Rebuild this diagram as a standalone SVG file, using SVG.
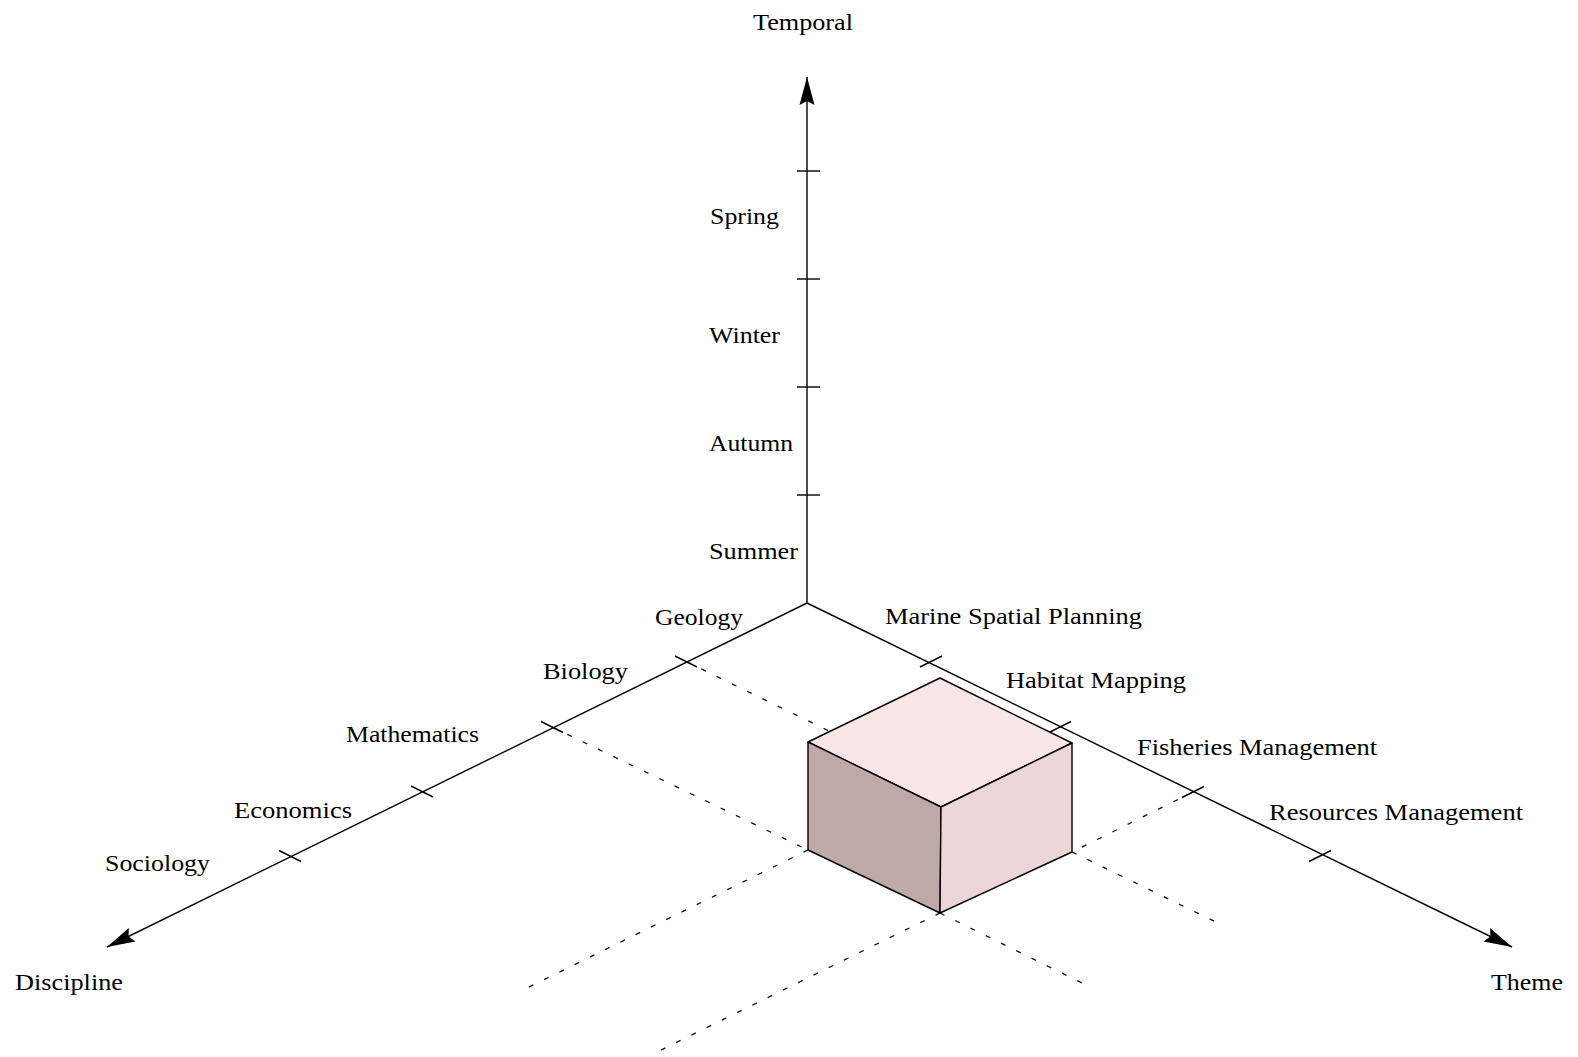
<svg xmlns="http://www.w3.org/2000/svg" width="1578" height="1057" viewBox="0 0 1578 1057">
<style>
  .axis { stroke: #000; stroke-width: 1.4; fill: none; }
  .tick { stroke: #000; stroke-width: 1.4; fill: none; }
  .dash { stroke: #111; stroke-width: 1.3; fill: none; stroke-dasharray: 5 12; }
  .edge { stroke: #000; stroke-width: 1.4; stroke-linejoin: round; }
  text { font-family: "Liberation Serif", "Times New Roman", serif; font-size: 24px; fill: #000; }
</style>
<defs>
  <marker id="arrow" markerUnits="userSpaceOnUse" markerWidth="40" markerHeight="24" refX="30" refY="10" orient="auto" viewBox="0 0 40 20">
    <path d="M30,10 L2,2.5 L6,10 L2,17.5 Z" fill="#000"/>
  </marker>
</defs>
<rect width="1578" height="1057" fill="#fff"/>

<g id="connectors">
  <g id="dashed-guides">
    <line class="dash" x1="686" y1="661.5" x2="829" y2="731"/>
    <line class="dash" x1="552" y1="727" x2="808" y2="850"/>
    <line class="dash" x1="808" y1="850" x2="525" y2="989"/>
    <line class="dash" x1="940" y1="913" x2="655" y2="1053"/>
    <line class="dash" x1="940" y1="913" x2="1090" y2="987"/>
    <line class="dash" x1="1072" y1="852" x2="1222" y2="925"/>
    <line class="dash" x1="1193" y1="792" x2="1072" y2="852"/>
  </g>
  <g id="axes">
    <line id="axis-temporal" class="axis" x1="807" y1="603" x2="807" y2="77" marker-end="url(#arrow)"/>
    <line id="axis-discipline" class="axis" x1="807" y1="603" x2="107" y2="947" marker-end="url(#arrow)"/>
    <line id="axis-theme" class="axis" x1="807" y1="603" x2="1512" y2="947" marker-end="url(#arrow)"/>
  </g>
  <g id="ticks">
    <line class="tick" x1="797" y1="171" x2="820" y2="171"/>
    <line class="tick" x1="797" y1="279" x2="820" y2="279"/>
    <line class="tick" x1="797" y1="387" x2="820" y2="387"/>
    <line class="tick" x1="797" y1="495" x2="820" y2="495"/>
    <line class="tick" x1="675" y1="656" x2="697" y2="667"/>
    <line class="tick" x1="541" y1="721.5" x2="563" y2="732.5"/>
    <line class="tick" x1="411" y1="786" x2="433" y2="797"/>
    <line class="tick" x1="279" y1="850.5" x2="301" y2="861.5"/>
    <line class="tick" x1="920" y1="667" x2="942" y2="656"/>
    <line class="tick" x1="1049" y1="732.5" x2="1071" y2="721.5"/>
    <line class="tick" x1="1182" y1="797.5" x2="1204" y2="786.5"/>
    <line class="tick" x1="1309" y1="861.5" x2="1331" y2="850.5"/>
  </g>
</g>

<g id="cube">
  <polygon id="cube-top" class="edge" points="940,678 1072,743 941,807 808,742" fill="#f9e5e6"/>
  <polygon id="cube-left" class="edge" points="808,742 941,807 940,913 808,850" fill="#bfa8a8"/>
  <polygon id="cube-right" class="edge" points="941,807 1072,743 1072,852 940,913" fill="#ecd5d6"/>
</g>

<g id="labels">
  <g id="temporal-labels">
    <text x="753" y="30" textLength="100" lengthAdjust="spacingAndGlyphs">Temporal</text>
    <text x="710" y="224" textLength="69" lengthAdjust="spacingAndGlyphs">Spring</text>
    <text x="709" y="343" textLength="71" lengthAdjust="spacingAndGlyphs">Winter</text>
    <text x="709" y="451" textLength="84" lengthAdjust="spacingAndGlyphs">Autumn</text>
    <text x="709" y="559" textLength="89" lengthAdjust="spacingAndGlyphs">Summer</text>
  </g>
  <g id="discipline-labels">
    <text x="655" y="625" textLength="88" lengthAdjust="spacingAndGlyphs">Geology</text>
    <text x="543" y="679" textLength="85" lengthAdjust="spacingAndGlyphs">Biology</text>
    <text x="346" y="742" textLength="133" lengthAdjust="spacingAndGlyphs">Mathematics</text>
    <text x="234" y="818" textLength="118" lengthAdjust="spacingAndGlyphs">Economics</text>
    <text x="105" y="871" textLength="105" lengthAdjust="spacingAndGlyphs">Sociology</text>
    <text x="15" y="990" textLength="108" lengthAdjust="spacingAndGlyphs">Discipline</text>
  </g>
  <g id="theme-labels">
    <text x="885" y="624" textLength="257" lengthAdjust="spacingAndGlyphs">Marine Spatial Planning</text>
    <text x="1006" y="688" textLength="180" lengthAdjust="spacingAndGlyphs">Habitat Mapping</text>
    <text x="1137" y="755" textLength="240" lengthAdjust="spacingAndGlyphs">Fisheries Management</text>
    <text x="1269" y="820" textLength="254" lengthAdjust="spacingAndGlyphs">Resources Management</text>
    <text x="1491" y="990" textLength="72" lengthAdjust="spacingAndGlyphs">Theme</text>
  </g>
</g>
</svg>
